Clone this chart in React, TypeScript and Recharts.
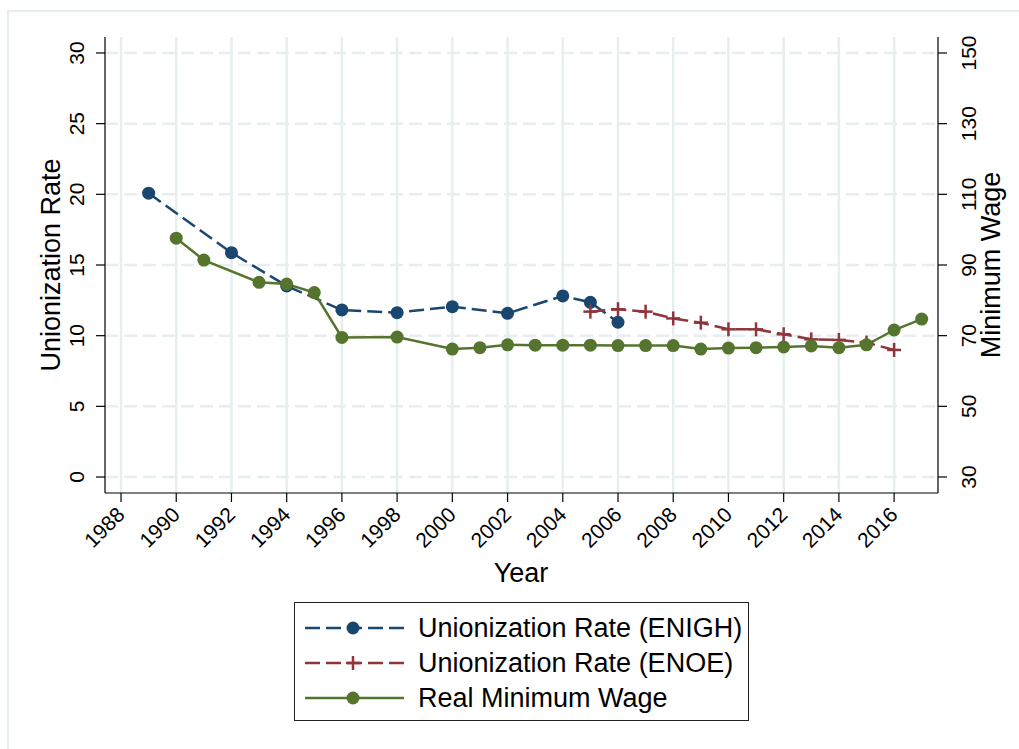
import { LineChart, Line, XAxis, YAxis, CartesianGrid, Label } from 'recharts';

// Unionization rate, ENIGH survey (left axis)
const enighYears = [1989, 1992, 1994, 1996, 1998, 2000, 2002, 2004, 2005, 2006];
const enighRate = [20.08, 15.87, 13.52, 11.82, 11.63, 12.05, 11.58, 12.81, 12.36, 10.95];

// Unionization rate, ENOE survey (left axis)
const enoeYears = [2005, 2006, 2007, 2008, 2009, 2010, 2011, 2012, 2013, 2014, 2015, 2016];
const enoeRate = [11.7, 11.87, 11.7, 11.22, 10.92, 10.45, 10.45, 10.1, 9.74, 9.7, 9.51, 8.99];

// Real minimum wage (right axis)
const wageYears = [1990, 1991, 1993, 1994, 1995, 1996, 1998, 2000, 2001, 2002, 2003, 2004, 2005, 2006, 2007, 2008, 2009, 2010, 2011, 2012, 2013, 2014, 2015, 2016, 2017];
const wageValues = [97.6, 91.4, 85.1, 84.6, 82.2, 69.5, 69.6, 66.2, 66.6, 67.4, 67.3, 67.3, 67.3, 67.2, 67.2, 67.2, 66.2, 66.5, 66.6, 66.8, 67.1, 66.6, 67.4, 71.6, 74.7];

const yearTicks = [1988, 1990, 1992, 1994, 1996, 1998, 2000, 2002, 2004, 2006, 2008, 2010, 2012, 2014, 2016];
const rateTicks = [0, 5, 10, 15, 20, 25, 30];
const wageTicks = [30, 50, 70, 90, 110, 130, 150];

const enighData = enighYears.map((year, i) => ({ year, rate: enighRate[i] }));
const enoeData = enoeYears.map((year, i) => ({ year, rate: enoeRate[i] }));
const wageData = wageYears.map((year, i) => ({ year, wage: wageValues[i] }));

const FONT = 'Arimo, "Liberation Sans", Arial, sans-serif';
const NAVY = '#1a476f';
const MAROON = '#90353b';
const GREEN = '#55752f';
const GRID = '#e6eef0';

const YearTick = (props: any) => {
  const { x, y, payload } = props;
  const tx = x + 5;
  const ty = y + 14;
  return (
    <text x={tx} y={ty} transform={`rotate(-45, ${tx}, ${ty})`} textAnchor="end" fontSize={21} fontFamily={FONT} fill="#000">
      {payload.value}
    </text>
  );
};

const LeftTick = (props: any) => {
  const { y, payload } = props;
  const tx = 84;
  return (
    <text x={tx} y={y} transform={`rotate(-90, ${tx}, ${y})`} textAnchor="middle" fontSize={21} fontFamily={FONT} fill="#000">
      {payload.value}
    </text>
  );
};

const RightTick = (props: any) => {
  const { y, payload } = props;
  const tx = 976;
  return (
    <text x={tx} y={y} transform={`rotate(-90, ${tx}, ${y})`} textAnchor="middle" fontSize={21} fontFamily={FONT} fill="#000">
      {payload.value}
    </text>
  );
};

const PlusDot = (props: any) => {
  const { cx, cy, index } = props;
  if (cx == null || cy == null) return null;
  return (
    <g key={`plus-${index}`}>
      <line x1={cx - 7} y1={cy} x2={cx + 7} y2={cy} stroke={MAROON} strokeWidth={2.5} />
      <line x1={cx} y1={cy - 7} x2={cx} y2={cy + 7} stroke={MAROON} strokeWidth={2.5} />
    </g>
  );
};

const legendItems = [
  { label: 'Unionization Rate (ENIGH)', color: NAVY, dash: '15 6', marker: 'circle' },
  { label: 'Unionization Rate (ENOE)', color: MAROON, dash: '15 6', marker: 'plus' },
  { label: 'Real Minimum Wage', color: GREEN, dash: undefined, marker: 'circle' },
];

const ChartLegend = () => (
  <div
    style={{
      position: 'absolute',
      left: 294,
      top: 602,
      width: 455,
      height: 119,
      border: '1px solid #222',
      boxSizing: 'border-box',
      background: '#fff',
    }}
  >
    {legendItems.map((item, i) => (
      <div key={item.label} style={{ position: 'absolute', left: 0, top: 8 + i * 35, height: 34, display: 'flex', alignItems: 'center' }}>
        <svg width={120} height={34}>
          <line x1={10} y1={17} x2={109} y2={17} stroke={item.color} strokeWidth={2.5} strokeDasharray={item.dash} />
          {item.marker === 'circle' ? (
            <circle cx={58} cy={17} r={6.5} fill={item.color} />
          ) : (
            <g>
              <line x1={51} y1={17} x2={65} y2={17} stroke={item.color} strokeWidth={2.5} />
              <line x1={58} y1={10} x2={58} y2={24} stroke={item.color} strokeWidth={2.5} />
            </g>
          )}
        </svg>
        <span style={{ marginLeft: 3, fontFamily: FONT, fontSize: 27, color: '#000', whiteSpace: 'nowrap' }}>{item.label}</span>
      </div>
    ))}
  </div>
);

export default function App() {
  return (
    <div style={{ position: 'absolute', left: 0, top: 0, width: 1019, height: 749, background: '#fff', overflow: 'hidden' }}>
      <div style={{ position: 'absolute', left: 7, top: 10, width: 1030, height: 760, border: `2px solid ${GRID}` }} />
      <div style={{ position: 'absolute', left: 0, top: 0 }}>
        <LineChart width={1019} height={749} margin={{ top: 37, right: 0, bottom: 0, left: 0 }}>
          <CartesianGrid yAxisId="left" vertical={false} horizontal stroke={GRID} strokeWidth={2.5} strokeDasharray="13 6" horizontalValues={rateTicks} />
          <CartesianGrid yAxisId="left" horizontal={false} vertical stroke={GRID} strokeWidth={2.5} verticalValues={yearTicks} />
          <XAxis
            dataKey="year"
            type="number"
            domain={[1987.42, 2017.59]}
            ticks={yearTicks}
            allowDataOverflow
            interval={0}
            height={256}
            tickSize={9}
            tickMargin={0}
            tick={<YearTick />}
            axisLine={{ stroke: '#000', strokeWidth: 1.2 }}
            tickLine={{ stroke: '#000', strokeWidth: 1.2 }}
          >
            <Label
              content={() => (
                <text x={521} y={582} textAnchor="middle" fontSize={27} fontFamily={FONT} fill="#000">
                  Year
                </text>
              )}
            />
          </XAxis>
          <YAxis
            yAxisId="left"
            orientation="left"
            width={105}
            domain={[-1.13, 31.13]}
            ticks={rateTicks}
            allowDataOverflow
            interval={0}
            tickSize={9}
            tickMargin={0}
            tick={<LeftTick />}
            axisLine={{ stroke: '#000', strokeWidth: 1.2 }}
            tickLine={{ stroke: '#000', strokeWidth: 1.2 }}
          >
            <Label
              content={() => (
                <text x={60} y={265} transform="rotate(-90, 60, 265)" textAnchor="middle" fontSize={27} fontFamily={FONT} fill="#000">
                  Unionization Rate
                </text>
              )}
            />
          </YAxis>
          <YAxis
            yAxisId="right"
            orientation="right"
            width={81}
            domain={[25.47, 154.53]}
            ticks={wageTicks}
            allowDataOverflow
            interval={0}
            tickSize={9}
            tickMargin={0}
            tick={<RightTick />}
            axisLine={{ stroke: '#000', strokeWidth: 1.2 }}
            tickLine={{ stroke: '#000', strokeWidth: 1.2 }}
          >
            <Label
              content={() => (
                <text x={1000} y={265} transform="rotate(-90, 1000, 265)" textAnchor="middle" fontSize={27} fontFamily={FONT} fill="#000">
                  Minimum Wage
                </text>
              )}
            />
          </YAxis>
          <Line
            yAxisId="left"
            data={enighData}
            dataKey="rate"
            stroke={NAVY}
            strokeWidth={2.5}
            strokeDasharray="15 6"
            dot={{ r: 6.5, fill: NAVY, stroke: 'none' }}
            isAnimationActive={false}
          />
          <Line
            yAxisId="left"
            data={enoeData}
            dataKey="rate"
            stroke={MAROON}
            strokeWidth={2.5}
            strokeDasharray="15 6"
            dot={<PlusDot />}
            isAnimationActive={false}
          />
          <Line
            yAxisId="right"
            data={wageData}
            dataKey="wage"
            stroke={GREEN}
            strokeWidth={2.5}
            dot={{ r: 6.5, fill: GREEN, stroke: 'none' }}
            isAnimationActive={false}
          />
        </LineChart>
      </div>
      <ChartLegend />
    </div>
  );
}
